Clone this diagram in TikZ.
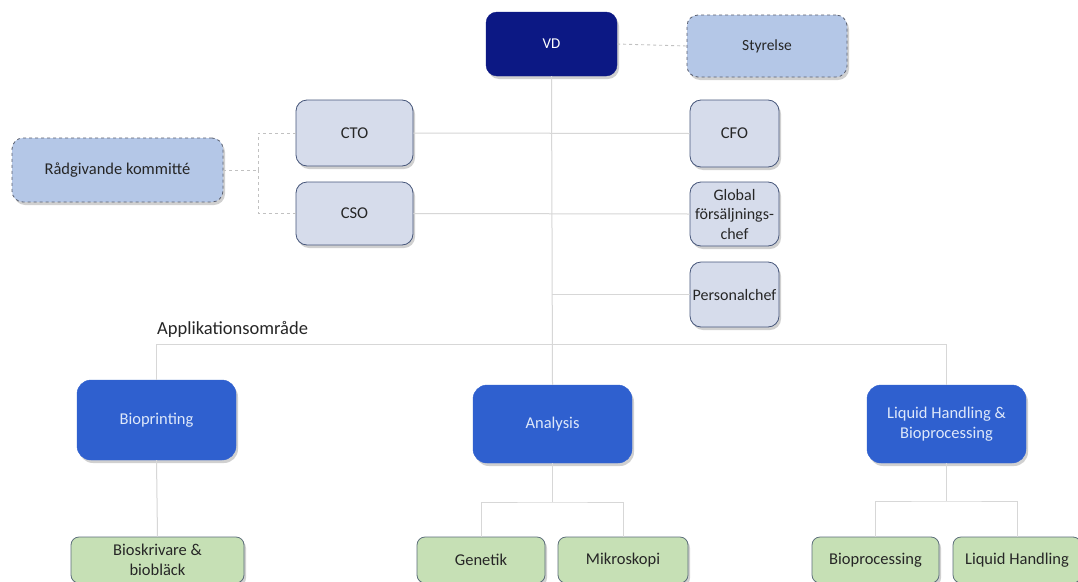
\documentclass[tikz,border=0pt]{standalone}
\usepackage{fontspec}
\setmainfont{Carlito}
\usetikzlibrary{shadows,calc}
\definecolor{navy}{RGB}{12,24,132}
\definecolor{dashfill}{RGB}{180,199,231}
\definecolor{dashline}{RGB}{90,96,112}
\definecolor{greyfill}{RGB}{214,220,235}
\definecolor{greyline}{RGB}{70,86,122}
\definecolor{bluefill}{RGB}{47,96,207}
\definecolor{greenfill}{RGB}{198,224,181}
\definecolor{greenline}{RGB}{92,110,122}
\definecolor{conn}{RGB}{215,215,215}
\definecolor{bluetext}{RGB}{222,232,250}
\begin{document}
\begin{tikzpicture}[x=1pt,y=-1pt,
  base/.style={rounded corners=11pt, align=center, inner sep=0pt,
    font=\fontsize{16.5}{20}\selectfont,
    drop shadow={shadow xshift=2pt, shadow yshift=-3pt, opacity=0.3, fill=black!60}},
  vdbox/.style={base, fill=navy, draw=navy, text=white, font=\fontsize{15}{18}\selectfont},
  dashbox/.style={base, fill=dashfill, draw=dashline, dashed, line width=0.8pt, text=black!85},
  greybox/.style={base, fill=greyfill, draw=greyline, line width=0.8pt, text=black!85},
  bluebox/.style={base, rounded corners=14pt, fill=bluefill, draw=bluefill, text=bluetext},
  greenbox/.style={base, rounded corners=8pt, fill=greenfill, draw=greenline, line width=0.8pt, text=black!85},
  link/.style={draw=conn, line width=1pt},
  dlink/.style={draw=conn!90!black, line width=0.9pt, dashed}
]
\useasboundingbox (0,0) rectangle (1078,581);
\fill[white] (0,0) rectangle (1078,581);

% nodes
\node[vdbox, minimum width=131pt, minimum height=64pt] (vd) at (551.5,44) {VD};
\node[dashbox, minimum width=160pt, minimum height=62pt, font=\fontsize{15.5}{18}\selectfont] (sty) at (767,46) {Styrelse};
\node[dashbox, minimum width=211pt, minimum height=64pt] (rad) at (117.5,170) {Rådgivande kommitté};
\node[greybox, minimum width=117pt, minimum height=66pt] (cto) at (354.5,133) {CTO};
\node[greybox, minimum width=117pt, minimum height=63pt] (cso) at (354.5,213.5) {CSO};
\node[greybox, minimum width=89pt, minimum height=67pt] (cfo) at (734.5,133.5) {CFO};
\node[greybox, minimum width=89pt, minimum height=64pt, font=\fontsize{16}{19.5}\selectfont] (glob) at (734.5,214) {Global\\försäljnings-\\chef};
\node[greybox, minimum width=89pt, minimum height=65pt, font=\fontsize{16}{19.5}\selectfont] (pers) at (734.5,294.5) {Personalchef};

\node[anchor=base west, inner sep=0pt, font=\fontsize{18.5}{21}\selectfont, text=black!85] (app) at (157,334) {Applikationsområde};

\node[bluebox, minimum width=159pt, minimum height=80pt] (bio) at (156.5,420) {Bioprinting};
\node[bluebox, minimum width=159pt, minimum height=78pt] (ana) at (552.5,424) {Analysis};
\node[bluebox, minimum width=159pt, minimum height=78pt] (lh) at (946.5,424) {Liquid Handling \&\\Bioprocessing};

\node[greenbox, minimum width=173pt, minimum height=46pt] (bsk) at (157.5,560) {Bioskrivare \&\\biobläck};
\node[greenbox, minimum width=128pt, minimum height=46pt] (gen) at (481,560) {Genetik};
\node[greenbox, minimum width=130pt, minimum height=46pt] (mik) at (623,560) {Mikroskopi};
\node[greenbox, minimum width=127pt, minimum height=46pt] (bpr) at (875.5,560) {Bioprocessing};
\node[greenbox, minimum width=128pt, minimum height=46pt] (liq) at (1017,560) {Liquid Handling};

% connectors
\draw[dlink] (vd.east) -- (sty.west);
\draw[dlink] (rad.east) -- ++(35,0) coordinate (rj);
\draw[dlink] (rj) |- (cto.west);
\draw[dlink] (rj) |- (cso.west);

\draw[link] (vd.south) -- (ana.north);
\draw[link] (cto.east) -- (cfo.west);
\draw[link] (cso.east) -- (glob.west);
\draw[link] (pers.west) -- (vd.south |- pers.west);

\coordinate (busl) at (bio.north |- 0,344);
\coordinate (busr) at (lh.north |- 0,344);
\draw[link] (busl) -- (busr);
\draw[link] (busl) -- (bio.north);
\draw[link] (busr) -- (lh.north);

\draw[link] (bio.south) -- (bsk.north);
\coordinate (aj) at (ana.south |- 0,502);
\draw[link] (ana.south) -- (aj);
\draw[link] (gen.north) |- (aj) -| (mik.north);
\coordinate (lj) at (lh.south |- 0,501);
\draw[link] (lh.south) -- (lj);
\draw[link] (bpr.north) |- (lj) -| (liq.north);
\end{tikzpicture}
\end{document}
